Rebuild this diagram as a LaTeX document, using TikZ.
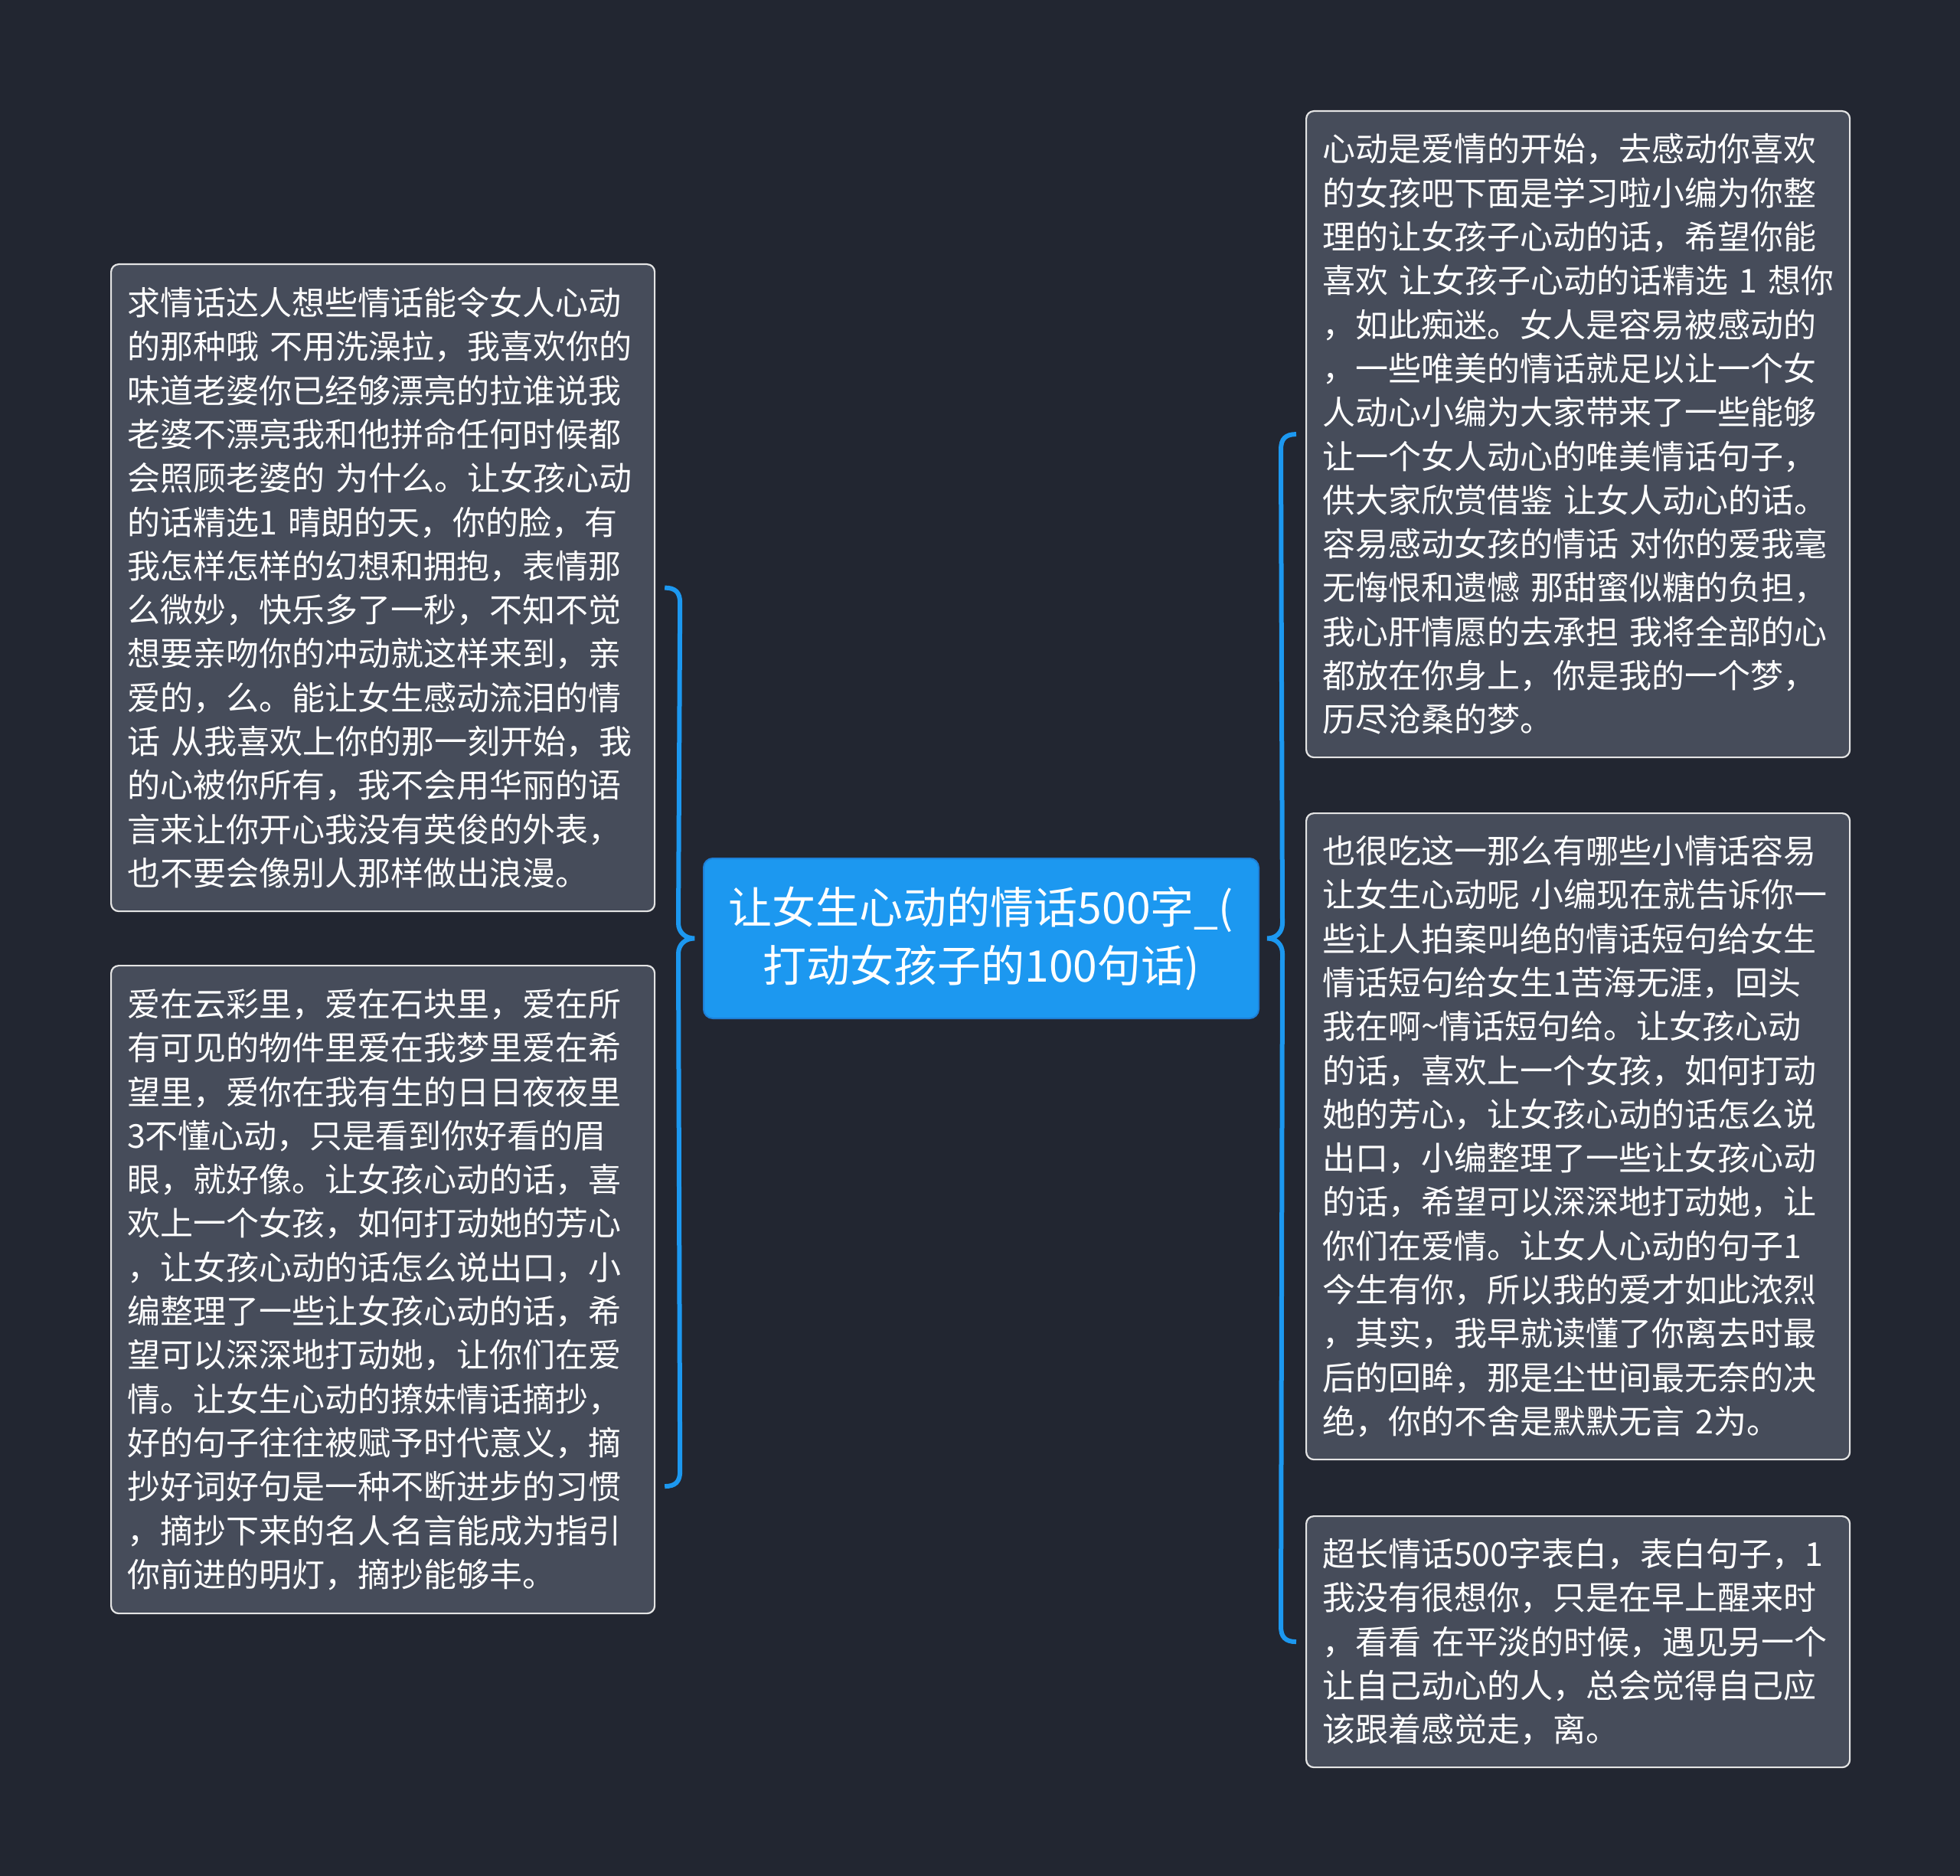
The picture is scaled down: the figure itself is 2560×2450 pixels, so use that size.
\documentclass[tikz,border=0pt]{standalone}
\usepackage{fontspec}
\setmainfont{Noto Sans CJK SC}
\usetikzlibrary{calc}
\definecolor{bg}{HTML}{222631}
\definecolor{boxfill}{HTML}{464C5A}
\definecolor{boxline}{HTML}{E4E4E4}
\definecolor{accent}{HTML}{1C98F0}
\definecolor{accentdark}{HTML}{1E7FD6}
\newcommand\myln[1]{\mbox{#1}}
\begin{document}
\begin{tikzpicture}[x=0.5pt,y=-0.5pt,
  leaf/.style={draw=boxline, line width=1.1pt, fill=boxfill, rounded corners=5pt,
    anchor=north west, text=white, align=left, text width=334pt,
    inner xsep=10.5pt, inner ysep=0pt,
    font=\fontsize{21.5pt}{28.65pt}\selectfont},
  root/.style={draw=accentdark, line width=1pt, fill=accent, rounded corners=6pt,
    anchor=north west, text=white, align=center, minimum width=362.5pt,
    minimum height=104.5pt, inner sep=0pt,
    font=\fontsize{28.5pt}{38pt}\selectfont},
  brace/.style={draw=accent, line width=3pt}]
\fill[bg] (0,0) rectangle (2560,2450);
\useasboundingbox (0,0) rectangle (2560,2450);

\node[root] (C) at (918,1120) {让女生心动的情话500字\_(\\打动女孩子的100句话)};

\node[leaf, minimum height=422.5pt] (L1) at (144,344) {%
\myln{求情话达人想些情话能令女人心动}\\
\myln{的那种哦 不用洗澡拉，我喜欢你的}\\
\myln{味道老婆你已经够漂亮的拉谁说我}\\
\myln{老婆不漂亮我和他拼命任何时候都}\\
\myln{会照顾老婆的 为什么。让女孩心动}\\
\myln{的话精选1 晴朗的天，你的脸，有}\\
\myln{我怎样怎样的幻想和拥抱，表情那}\\
\myln{么微妙，快乐多了一秒，不知不觉}\\
\myln{想要亲吻你的冲动就这样来到，亲}\\
\myln{爱的，么。能让女生感动流泪的情}\\
\myln{话 从我喜欢上你的那一刻开始，我}\\
\myln{的心被你所有，我不会用华丽的语}\\
\myln{言来让你开心我没有英俊的外表，}\\
\myln{也不要会像别人那样做出浪漫。}};

\node[leaf, minimum height=423pt] (L2) at (144,1260) {%
\myln{爱在云彩里，爱在石块里，爱在所}\\
\myln{有可见的物件里爱在我梦里爱在希}\\
\myln{望里，爱你在我有生的日日夜夜里}\\
\myln{3不懂心动，只是看到你好看的眉}\\
\myln{眼，就好像。让女孩心动的话，喜}\\
\myln{欢上一个女孩，如何打动她的芳心}\\
\myln{，让女孩心动的话怎么说出口，小}\\
\myln{编整理了一些让女孩心动的话，希}\\
\myln{望可以深深地打动她，让你们在爱}\\
\myln{情。让女生心动的撩妹情话摘抄，}\\
\myln{好的句子往往被赋予时代意义，摘}\\
\myln{抄好词好句是一种不断进步的习惯}\\
\myln{，摘抄下来的名人名言能成为指引}\\
\myln{你前进的明灯，摘抄能够丰。}};

\node[leaf, minimum height=422pt] (R1) at (1705,144) {%
\myln{心动是爱情的开始，去感动你喜欢}\\
\myln{的女孩吧下面是学习啦小编为你整}\\
\myln{理的让女孩子心动的话，希望你能}\\
\myln{喜欢 让女孩子心动的话精选 1 想你}\\
\myln{，如此痴迷。女人是容易被感动的}\\
\myln{，一些唯美的情话就足以让一个女}\\
\myln{人动心小编为大家带来了一些能够}\\
\myln{让一个女人动心的唯美情话句子，}\\
\myln{供大家欣赏借鉴 让女人动心的话。}\\
\myln{容易感动女孩的情话 对你的爱我毫}\\
\myln{无悔恨和遗憾 那甜蜜似糖的负担，}\\
\myln{我心肝情愿的去承担 我将全部的心}\\
\myln{都放在你身上，你是我的一个梦，}\\
\myln{历尽沧桑的梦。}};

\node[leaf, minimum height=422pt] (R2) at (1705,1061) {%
\myln{也很吃这一那么有哪些小情话容易}\\
\myln{让女生心动呢 小编现在就告诉你一}\\
\myln{些让人拍案叫绝的情话短句给女生}\\
\myln{情话短句给女生1苦海无涯，回头}\\
\myln{我在啊\textasciitilde 情话短句给。让女孩心动}\\
\myln{的话，喜欢上一个女孩，如何打动}\\
\myln{她的芳心，让女孩心动的话怎么说}\\
\myln{出口，小编整理了一些让女孩心动}\\
\myln{的话，希望可以深深地打动她，让}\\
\myln{你们在爱情。让女人心动的句子1}\\
\myln{今生有你，所以我的爱才如此浓烈}\\
\myln{，其实，我早就读懂了你离去时最}\\
\myln{后的回眸，那是尘世间最无奈的决}\\
\myln{绝，你的不舍是默默无言 2为。}};

\node[leaf, minimum height=164pt] (R3) at (1705,1979) {%
\myln{超长情话500字表白，表白句子，1}\\
\myln{我没有很想你，只是在早上醒来时}\\
\myln{，看看 在平淡的时候，遇见另一个}\\
\myln{让自己动心的人，总会觉得自己应}\\
\myln{该跟着感觉走，离。}};

% left brace
\coordinate (lt) at ($(L1.east)+(12,0)$);
\coordinate (lb) at ($(L2.east)+(12,257)$);
\coordinate (lp) at ($(C.west)+(-11,0)$);
\draw[brace] (lt) .. controls +(14,0) and +(0,-14) .. ($(lt)+(20,20)$)
  -- ($(lp)+(-21,-20)$) .. controls +(0,12) and +(-12,0) .. (lp)
  .. controls +(-12,0) and +(0,-12) .. ($(lp)+(-21,20)$)
  -- ($(lb)+(20,-20)$) .. controls +(0,14) and +(14,0) .. (lb);

% right brace
\coordinate (rt) at ($(R1.west)+(-12,0)$);
\coordinate (rb) at ($(R3.west)+(-12,0)$);
\coordinate (rp) at ($(C.east)+(10,0)$);
\draw[brace] (rt) .. controls +(-14,0) and +(0,-14) .. ($(rt)+(-20,20)$)
  -- ($(rp)+(20,-20)$) .. controls +(0,12) and +(12,0) .. (rp)
  .. controls +(12,0) and +(0,-12) .. ($(rp)+(20,20)$)
  -- ($(rb)+(-20,-20)$) .. controls +(0,14) and +(-14,0) .. (rb);
\end{tikzpicture}
\end{document}
